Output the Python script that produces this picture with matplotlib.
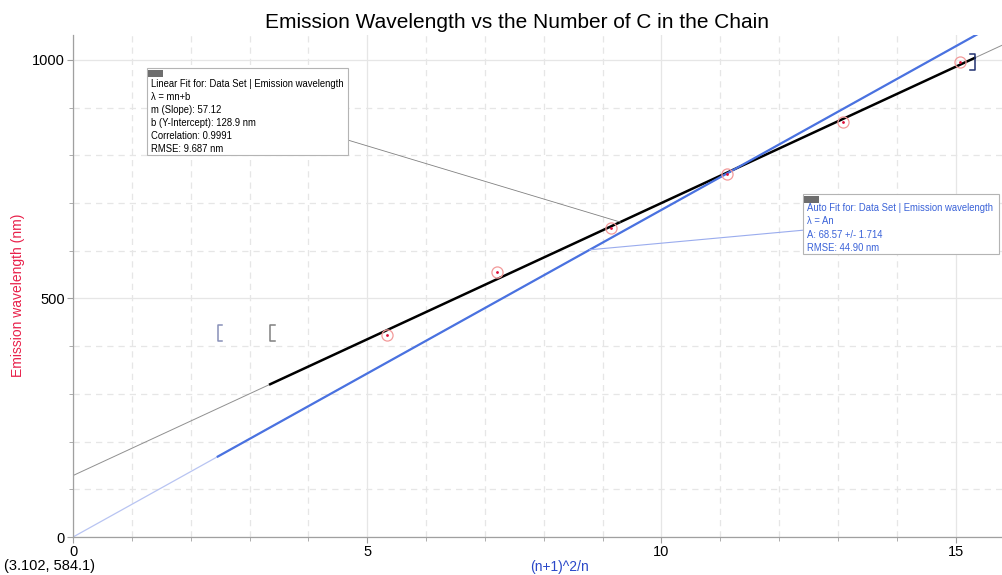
import numpy as np
import matplotlib.pyplot as plt
from matplotlib.patches import Rectangle

# data
n_carbons = [3, 5, 7, 9, 11, 13]
x_vals = [5.33, 7.20, 9.14, 11.11, 13.09, 15.08]
emission = [423, 556, 648, 761, 870, 996]

# fit results shown in the boxes
slope, intercept = 57.12, 128.9
auto_a = 68.57
lin_range = (3.35, 15.32)
auto_range = (2.46, 15.8)

plt.rcParams['font.family'] = ['Liberation Sans', 'DejaVu Sans']

W, H = 1003, 575
fig = plt.figure(figsize=(W / 100, H / 100), dpi=100)
ax = fig.add_axes([0.0728, 0.066, 0.927, 0.873])
ax.set_xlim(0, 15.8)
ax.set_ylim(0, 1052)

# grid
ax.set_xticks([0, 5, 10, 15])
ax.set_xticks(np.arange(1, 16), minor=True)
ax.set_yticks([0, 500, 1000])
ax.set_yticks(np.arange(100, 1001, 100), minor=True)
ax.grid(True, which='major', color='#e6e6e6', lw=0.9)
ax.grid(True, which='minor', color='#e6e6e6', lw=0.9, ls=(0, (5, 4)))
ax.set_axisbelow(True)
for s in ['top', 'right']:
    ax.spines[s].set_visible(False)
for s in ['left', 'bottom']:
    ax.spines[s].set_color('#a0a0a0')
    ax.spines[s].set_linewidth(0.9)
ax.tick_params(which='both', colors='#a0a0a0', labelcolor='black', labelsize=10.5, length=4, pad=2)
ax.tick_params(which='minor', length=3)

xx = np.array([0, 15.8])
# thin extensions
ax.plot(xx, slope * xx + intercept, color='#909090', lw=0.7)
ax.plot(xx, auto_a * xx, color='#b8c4f2', lw=0.9)
# fitted ranges
lx = np.array(lin_range)
ax.plot(lx, slope * lx + intercept, color='black', lw=1.8)
bx = np.array(auto_range)
ax.plot(bx, auto_a * bx, color='#4a72e0', lw=1.6)

# data points
ax.plot(x_vals, emission, 'o', mfc='none', mec='#f39a9a', ms=8, mew=0.9)
ax.plot(x_vals, emission, '.', color='#e0103a', ms=2)

# range brackets
def bracket(x, y0, y1, color, side):
    d = 0.08 * side
    ax.plot([x + d, x, x, x + d], [y0, y0, y1, y1], color=color, lw=1.1)

bracket(auto_range[0], 410, 445, '#8890b8', 1)
bracket(lin_range[0], 410, 445, '#808080', 1)
bracket(lin_range[1], 978, 1012, '#203070', -1)

# annotation connectors
ax.plot([4.67, 9.3], [832, slope * 9.3 + intercept], color='#808080', lw=0.6)
ax.plot([12.4, 8.78], [643, auto_a * 8.78], color='#9aacee', lw=0.8)


def fit_box(x0, y0, x1, y1, lines, color, y_first, step):
    # box drawn in pixel units of the figure
    fig.patches.append(Rectangle((x0 / W, 1 - y1 / H), (x1 - x0) / W, (y1 - y0) / H,
                                 transform=fig.transFigure, fc='white', ec='#b4b4b4', lw=0.8, zorder=5))
    fig.patches.append(Rectangle(((x0 + 1) / W, 1 - (y0 + 9) / H), 15 / W, 7 / H,
                                 transform=fig.transFigure, fc='#6e6e6e', ec='none', zorder=6))
    for i, t in enumerate(lines):
        fig.text((x0 + 4) / W, 1 - (y_first + i * step) / H, t, fontsize=6.85,
                 color=color, ha='left', va='center', zorder=7)


fit_box(147, 68, 348, 155,
        ['Linear Fit for: Data Set | Emission wavelength', 'λ = mn+b', 'm (Slope): 57.12',
         'b (Y-Intercept): 128.9 nm', 'Correlation: 0.9991', 'RMSE: 9.687 nm'],
        'black', 84, 13.0)
fit_box(803, 194, 999, 254,
        ['Auto Fit for: Data Set | Emission wavelength', 'λ = An', 'A: 68.57 +/- 1.714',
         'RMSE: 44.90 nm'],
        '#3a62d8', 208, 13.3)

fig.text(517 / W, 1 - 22 / H, 'Emission Wavelength vs the Number of C in the Chain',
         fontsize=15, ha='center', va='center')
fig.text(18 / W, 1 - 295 / H, 'Emission wavelength (nm)', color='#e8204a', fontsize=10,
         rotation=90, ha='center', va='center')
fig.text(560 / W, 1 - 567 / H, '(n+1)^2/n', color='#2a48c8', fontsize=10,
         ha='center', va='center')
fig.text(50 / W, 1 - 566 / H, '(3.102, 584.1)', fontsize=10.5, ha='center', va='center')

fig.savefig('out.png', dpi=100)
